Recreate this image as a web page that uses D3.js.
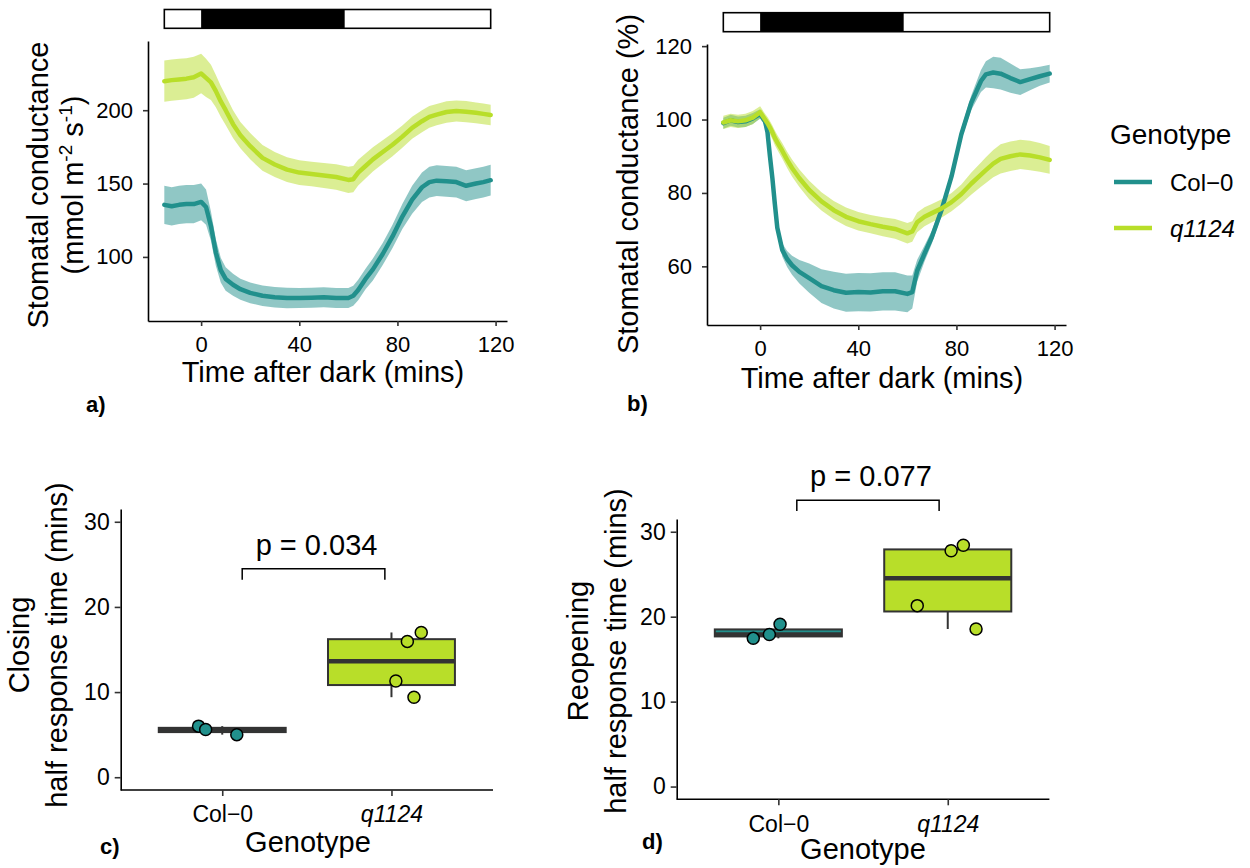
<!DOCTYPE html>
<html><head><meta charset="utf-8">
<script src="https://cdn.jsdelivr.net/npm/d3@7"></script>
<style>
body{margin:0;background:#fff;}
svg text{font-family:"Liberation Sans",Arial,Helvetica,sans-serif;fill:#000;}
</style></head><body>
<svg id="chart" width="1250" height="868"></svg>
<script>
// ---------------- DATA ----------------
const genotypes = ["Col−0", "q1124"];
const darkPeriod = [0, 58.5];
const xTicksTime = [0, 40, 80, 120];
const yTicksA = [100, 150, 200];
const yTicksB = [60, 80, 100, 120];
const yTicksBox = [0, 10, 20, 30];

// panel a: stomatal conductance (mmol m-2 s-1)
const timeA = [-15,-12,-9,-6,-3,0,2,4,6,8,10,13,16,20,25,30,35,40,45,50,55,60,62,64,67,70,74,78,82,86,90,93,96,100,104,108,112,115,118];
const colA = [135.5,134.5,135.5,136,136,137.5,134,121,103,91,85,81,78,75.5,73.5,72.5,72,72,72.2,72.5,72,72,73.5,77.5,85,91.5,102,114,127.5,139,147.5,151,152,151.5,151,148.5,150,151,152.3];
const colA_se = [13,13,13,13,13,12.5,12,10,9,8.5,8,7.5,7.2,7,7,7,7,6.8,6.8,6.8,6.8,6.8,6.8,7,7,7.5,7.5,8,8.5,9.5,10,10.5,10.5,10.5,10.5,10.5,10.5,10.5,10.5];
const qA = [219.8,220.5,221,221.5,222.5,225,222,219,213,206,200,190.5,183,175.5,167.5,163,159.5,157.5,156.5,155.5,154.5,152.5,153,157.5,162,166.5,171.5,176.5,182,188,192.5,195.5,197,198.8,199.5,199,198.2,197.5,196.8];
const qA_se = [14,14,14,14,14,13.5,13,12,11,10.5,10,9.5,9,9,8.8,8.5,8.4,8.4,8.4,8.5,8.7,9,9,8.8,8.5,8.2,8,7.8,7.6,7.5,7.5,7.4,7.3,7.3,7.2,7.2,7.1,7,7];

// panel b: stomatal conductance (%)
const timeB = [-15,-12,-9,-6,-3,0,2,3,4,5,6,7,9,11,13,16,20,25,30,35,40,45,50,55,60,62,64,67,70,74,78,82,86,90,92,95,98,102,106,110,114,118];
const colB = [99,99.8,99.3,99.5,100.3,101.5,99.5,96.5,90,84,77,70.5,64.5,62,60.3,58.5,56.8,54.6,53.5,52.8,53,52.9,53.2,53.2,52.5,53,58.8,63.5,68,75.5,84.5,96,104.5,110.5,112.3,112.8,112.5,111.3,110.2,111,111.8,112.5];
const colB_se = [1.5,1.5,1.5,1.5,1.5,1.3,1.2,1.2,1.2,1.2,1.2,1.3,1.8,2.2,2.6,3.2,4,4.6,5,5.2,5.2,5.2,5.2,5.2,5,4.5,3,2.2,1.8,1.5,1.5,1.6,2,3,3.6,4.3,4.3,4,3.5,3,2.6,2.4];
const qB = [99.2,99.8,99.5,99.8,100.5,102,100,99,97.8,96.5,95,93.8,91.5,89,86.8,84,80.8,77.7,75.3,73.5,72.3,71.5,70.8,70.2,69,69.5,72,73.5,74.5,75.8,77.5,79.7,82.5,85,86.2,88,89.3,90,90.5,90.2,89.7,89];
const qB_se = [1.8,1.8,1.8,1.8,1.8,1.6,1.6,1.7,1.8,1.9,2,2,2.1,2.2,2.3,2.4,2.5,2.5,2.5,2.5,2.5,2.5,2.6,2.7,2.8,2.8,2.7,2.6,2.5,2.5,2.5,2.6,3,3.3,3.5,3.7,4,4,4,4,3.9,3.8];

// panel c: closing half response time (mins)
const closingCol = [6.0, 5.6, 5.0];
const closingQ = [15.95, 17.0, 11.3, 9.4];
const closingColJitter = [-0.14, -0.098, 0.086];
const closingQJitter = [0.094, 0.176, 0.026, 0.133];
const closingP = "p = 0.034";
const closingBracket = [1.118, 1.961, 24.47, 23.2]; // xmin, xmax (category units), y, tip y

// panel d: reopening half response time (mins)
const reopenCol = [17.45, 17.9, 19.1];
const reopenQ = [27.76, 28.4, 21.3, 18.55];
const reopenColJitter = [-0.148, -0.053, 0.01];
const reopenQJitter = [0.02, 0.092, -0.18, 0.167];
const reopenP = "p = 0.077";
const reopenBracket = [1.109, 1.949, 33.7, 32.45];

// ---------------- STYLE ----------------
const colors = {"Col−0": "#21908C", "q1124": "#B8DE29"};
const TITLE = 29;
const svg = d3.select("#chart");

function styleAxis(g, fs){
  g.select(".domain").attr("stroke", "#000").attr("stroke-width", 1.6);
  g.selectAll(".tick line").attr("stroke", "#333").attr("stroke-width", 1.6);
  g.selectAll(".tick text").attr("font-size", fs).attr("fill", "#000")
    .style("font-family", '"Liberation Sans",Arial,sans-serif');
}

function tsPanel(cfg){
  const g = svg.append("g");
  const ext = d3.extent(cfg.times), pad = (ext[1]-ext[0])*0.05;
  const x = d3.scaleLinear().domain([ext[0]-pad, ext[1]+pad]).range(cfg.xr);
  let lo = Infinity, hi = -Infinity;
  cfg.series.forEach(s => s.mean.forEach((m,i) => { lo = Math.min(lo, m - s.se[i]); hi = Math.max(hi, m + s.se[i]); }));
  const yp = (hi-lo)*0.05;
  const y = d3.scaleLinear().domain([lo-yp, hi+yp]).range(cfg.yr);

  // light/dark bar
  g.append("rect").attr("x", x(ext[0])).attr("y", cfg.barY[0]).attr("width", x(ext[1])-x(ext[0]))
    .attr("height", cfg.barY[1]-cfg.barY[0]).attr("fill", "#fff").attr("stroke", "#000").attr("stroke-width", 1.6);
  g.append("rect").attr("x", x(darkPeriod[0])).attr("y", cfg.barY[0]).attr("width", x(darkPeriod[1])-x(darkPeriod[0]))
    .attr("height", cfg.barY[1]-cfg.barY[0]).attr("fill", "#000");

  cfg.series.forEach(s => {
    const data = cfg.times.map((t,i) => ({t, m: s.mean[i], se: s.se[i]}));
    g.append("path").datum(data)
      .attr("d", d3.area().x(d => x(d.t)).y0(d => y(d.m - d.se)).y1(d => y(d.m + d.se)))
      .attr("fill", colors[s.name]).attr("fill-opacity", 0.5);
  });
  cfg.series.forEach(s => {
    const data = cfg.times.map((t,i) => ({t, m: s.mean[i]}));
    g.append("path").datum(data)
      .attr("d", d3.line().x(d => x(d.t)).y(d => y(d.m)))
      .attr("fill", "none").attr("stroke", colors[s.name]).attr("stroke-width", 4.5)
      .attr("stroke-linejoin", "round").attr("stroke-linecap", "round");
  });

  const ax = g.append("g").attr("transform", `translate(0,${cfg.yr[0]})`)
    .call(d3.axisBottom(x).tickValues(xTicksTime).tickSize(5).tickPadding(10).tickSizeOuter(0));
  styleAxis(ax, 22);
  const ay = g.append("g").attr("transform", `translate(${cfg.xr[0]},0)`)
    .call(d3.axisLeft(y).tickValues(cfg.yTicks).tickSize(5).tickPadding(10).tickSizeOuter(0));
  styleAxis(ay, 22);
  return {x, y, g};
}

// Panel a
tsPanel({times: timeA, xr: [148, 507], yr: [321, 41], yTicks: yTicksA, barY: [9.5, 28.3],
  series: [{name: "Col−0", mean: colA, se: colA_se}, {name: "q1124", mean: qA, se: qA_se}]});
// Panel b
tsPanel({times: timeB, xr: [707, 1066], yr: [325, 44], yTicks: yTicksB, barY: [12.7, 31.7],
  series: [{name: "Col−0", mean: colB, se: colB_se}, {name: "q1124", mean: qB, se: qB_se}]});

// axis titles a/b
svg.append("text").attr("x", 323).attr("y", 382).attr("text-anchor", "middle").attr("font-size", TITLE).text("Time after dark (mins)");
svg.append("text").attr("x", 882).attr("y", 388).attr("text-anchor", "middle").attr("font-size", TITLE).text("Time after dark (mins)");

const ta = svg.append("g").attr("transform", "translate(0,185) rotate(-90)");
ta.append("text").attr("x", 0).attr("y", 48).attr("text-anchor", "middle").attr("font-size", TITLE).text("Stomatal conductance");
const ta2 = ta.append("text").attr("x", 0).attr("y", 83).attr("text-anchor", "middle").attr("font-size", TITLE);
ta2.append("tspan").text("(mmol m");
ta2.append("tspan").attr("dy", -11).attr("font-size", 19).text("-2");
ta2.append("tspan").attr("dy", 11).text(" s");
ta2.append("tspan").attr("dy", -11).attr("font-size", 19).text("-1");
ta2.append("tspan").attr("dy", 11).text(")");

svg.append("g").attr("transform", "translate(0,184) rotate(-90)")
  .append("text").attr("x", 0).attr("y", 638).attr("text-anchor", "middle").attr("font-size", TITLE).text("Stomatal conductance (%)");

// legend
svg.append("text").attr("x", 1110).attr("y", 144).attr("font-size", 28).text("Genotype");
genotypes.forEach((gname, i) => {
  const yy = 182 + i*46;
  svg.append("line").attr("x1", 1114).attr("x2", 1152).attr("y1", yy).attr("y2", yy)
    .attr("stroke", colors[gname]).attr("stroke-width", 4.5);
  svg.append("text").attr("x", 1170).attr("y", yy + 8.5).attr("font-size", 24)
    .attr("font-style", i === 1 ? "italic" : "normal").text(gname);
});

// ---------------- BOX PANELS ----------------
function boxPanel(cfg){
  const g = svg.append("g");
  const x = d3.scalePoint().domain(genotypes).range(cfg.xr).padding(0.6);
  const step = x.step();
  const y = d3.scaleLinear().domain([-1.5, 31.5]).range(cfg.yr);
  const groups = [{name: "Col−0", vals: cfg.col, jit: cfg.colJ}, {name: "q1124", vals: cfg.q, jit: cfg.qJ}];
  const bw = 0.75*step;
  groups.forEach(gr => {
    const s = gr.vals.slice().sort(d3.ascending);
    const q1 = d3.quantile(s, 0.25), med = d3.quantile(s, 0.5), q3 = d3.quantile(s, 0.75);
    const iqr = q3 - q1;
    const wlo = d3.min(s.filter(v => v >= q1 - 1.5*iqr));
    const whi = d3.max(s.filter(v => v <= q3 + 1.5*iqr));
    const cx = x(gr.name);
    g.append("line").attr("x1", cx).attr("x2", cx).attr("y1", y(q3)).attr("y2", y(whi)).attr("stroke", "#333").attr("stroke-width", 2);
    g.append("line").attr("x1", cx).attr("x2", cx).attr("y1", y(q1)).attr("y2", y(wlo)).attr("stroke", "#333").attr("stroke-width", 2);
    g.append("rect").attr("x", cx - bw/2).attr("width", bw).attr("y", y(q3)).attr("height", y(q1) - y(q3))
      .attr("fill", colors[gr.name]).attr("stroke", "#333").attr("stroke-width", 2);
    g.append("line").attr("x1", cx - bw/2).attr("x2", cx + bw/2).attr("y1", y(med)).attr("y2", y(med))
      .attr("stroke", "#333").attr("stroke-width", 4.5);
  });
  groups.forEach(gr => {
    gr.vals.forEach((v, i) => {
      g.append("circle").attr("cx", x(gr.name) + gr.jit[i]*step).attr("cy", y(v)).attr("r", 6)
        .attr("fill", colors[gr.name]).attr("stroke", "#000").attr("stroke-width", 1.5);
    });
  });
  // significance bracket
  const [bx0, bx1, by, bt] = cfg.bracket;
  const cat = v => x(genotypes[0]) + (v - 1)*step;
  g.append("path").attr("d", `M${cat(bx0)},${y(bt)}V${y(by)}H${cat(bx1)}V${y(bt)}`)
    .attr("fill", "none").attr("stroke", "#000").attr("stroke-width", 1.5);
  g.append("text").attr("x", (cat(bx0)+cat(bx1))/2 + 3).attr("y", y(by + 1.65)).attr("text-anchor", "middle")
    .attr("font-size", 29).text(cfg.p);

  const ax = g.append("g").attr("transform", `translate(0,${cfg.yr[0]})`)
    .call(d3.axisBottom(x).tickSize(6).tickPadding(10).tickSizeOuter(0));
  styleAxis(ax, 23);
  ax.selectAll(".tick text").attr("font-style", d => d === "q1124" ? "italic" : "normal");
  ax.select(".domain").attr("d", `M${cfg.xr[0]},0H${cfg.xr[1]}`);
  const ay = g.append("g").attr("transform", `translate(${cfg.xr[0]},0)`)
    .call(d3.axisLeft(y).tickValues(yTicksBox).tickSize(6).tickPadding(5).tickSizeOuter(0));
  styleAxis(ay, 23);
}

boxPanel({xr: [120.7, 493], yr: [790, 509], col: closingCol, q: closingQ, colJ: closingColJitter, qJ: closingQJitter,
  bracket: closingBracket, p: closingP});
boxPanel({xr: [676.7, 1049.4], yr: [799.3, 519], col: reopenCol, q: reopenQ, colJ: reopenColJitter, qJ: reopenQJitter,
  bracket: reopenBracket, p: reopenP});

// titles c/d
svg.append("text").attr("x", 308).attr("y", 852).attr("text-anchor", "middle").attr("font-size", TITLE).text("Genotype");
svg.append("text").attr("x", 863).attr("y", 859).attr("text-anchor", "middle").attr("font-size", TITLE).text("Genotype");

const tc = svg.append("g").attr("transform", "translate(0,645) rotate(-90)");
tc.append("text").attr("x", 0).attr("y", 29).attr("text-anchor", "middle").attr("font-size", TITLE).text("Closing");
tc.append("text").attr("x", 0).attr("y", 67).attr("text-anchor", "middle").attr("font-size", TITLE).text("half response time (mins)");
const td = svg.append("g").attr("transform", "translate(0,651) rotate(-90)");
td.append("text").attr("x", 0).attr("y", 588).attr("text-anchor", "middle").attr("font-size", TITLE).text("Reopening");
td.append("text").attr("x", 0).attr("y", 626).attr("text-anchor", "middle").attr("font-size", TITLE).text("half response time (mins)");

// panel labels
[["a)", 86, 412], ["b)", 627, 411], ["c)", 100, 854], ["d)", 642, 849]].forEach(([t, lx, ly]) => {
  svg.append("text").attr("x", lx).attr("y", ly).attr("font-size", 22).attr("font-weight", "bold").text(t);
});
</script>
</body></html>
